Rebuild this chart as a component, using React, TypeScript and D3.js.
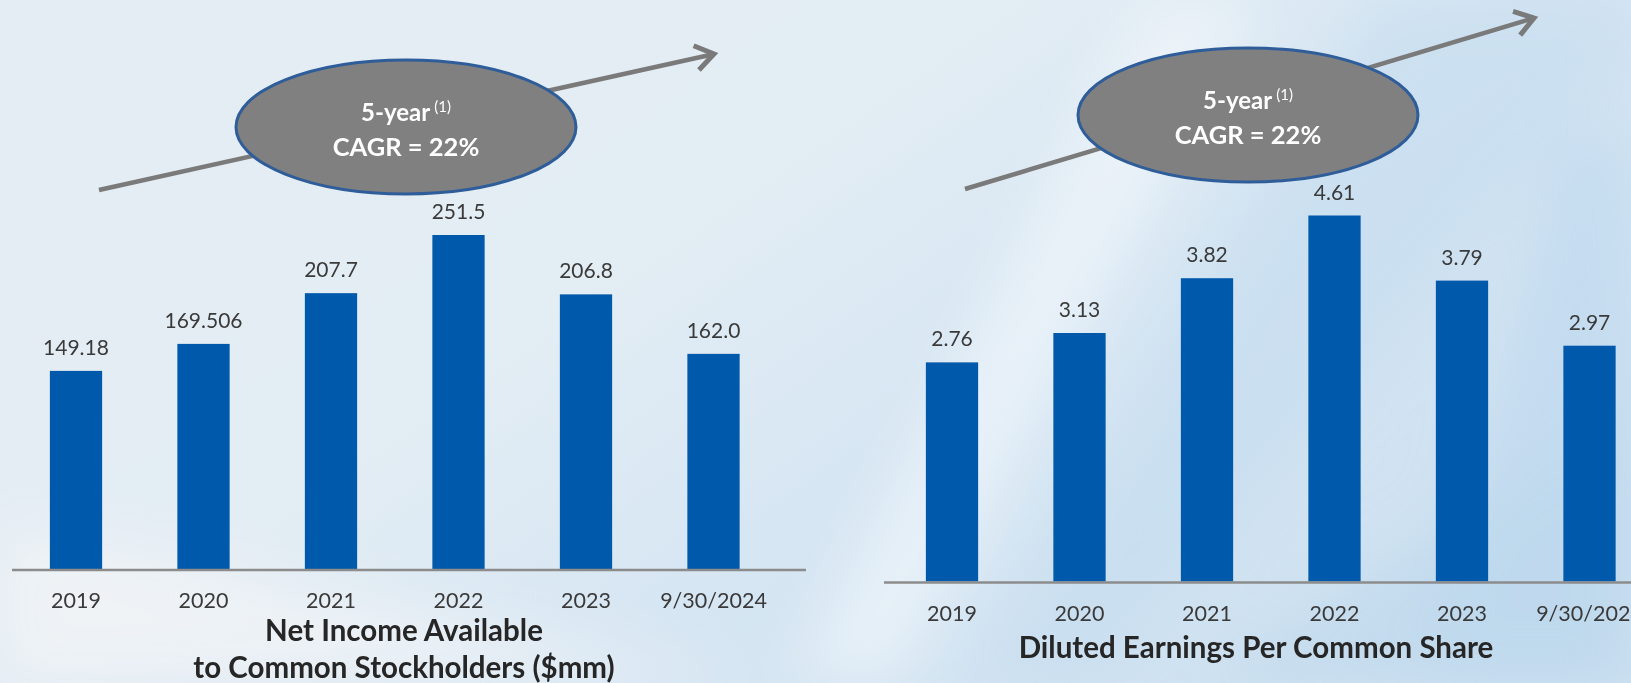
import React from "react";
import * as d3 from "d3";

const categories = ["2019", "2020", "2021", "2022", "2023", "9/30/2024"];
const netIncome = [149.18, 169.506, 207.7, 251.5, 206.8, 162.0];
const netIncomeLabels = ["149.18", "169.506", "207.7", "251.5", "206.8", "162.0"];
const eps = [2.76, 3.13, 3.82, 4.61, 3.79, 2.97];
const epsLabels = ["2.76", "3.13", "3.82", "4.61", "3.79", "2.97"];
const leftTitle = ["Net Income Available", "to Common Stockholders ($mm)"];
const rightTitle = ["Diluted Earnings Per Common Share"];
const cagrLine1 = "5-year";
const cagrSup = "(1)";
const cagrLine2 = "CAGR = 22%";

const W = 1631;
const H = 683;
const FONT = "Lato, 'Open Sans', sans-serif";
const BAR = "#0059aa";

type PanelProps = {
  values: number[];
  labels: string[];
  title: string[];
  xRange: [number, number];
  baseY: number;
  topY: number;
  axisX: [number, number];
  catY: number;
  titleX: number;
  titleY: number;
  arrow: [number, number, number, number];
  ell: [number, number, number, number];
};

function Panel(p: PanelProps) {
  const x = d3.scaleBand<string>().domain(categories).range(p.xRange).paddingInner(0.59).paddingOuter(0.295);
  const y = d3.scaleLinear().domain([0, d3.max(p.values) as number]).range([p.baseY, p.topY]);
  const [x1, y1, x2, y2] = p.arrow;
  const ang = Math.atan2(y2 - y1, x2 - x1);
  const hl = 22;
  const ha = 0.6;
  const head = [
    [x2 - hl * Math.cos(ang - ha), y2 - hl * Math.sin(ang - ha)],
    [x2, y2],
    [x2 - hl * Math.cos(ang + ha), y2 - hl * Math.sin(ang + ha)],
  ];
  const [cx, cy, rx, ry] = p.ell;
  return (
    <g>
      <line x1={x1} y1={y1} x2={x2 - 2 * Math.cos(ang)} y2={y2 - 2 * Math.sin(ang)} stroke="#7a7a7a" strokeWidth={4.5} />
      <path d={d3.line()(head as [number, number][]) as string} fill="none" stroke="#7a7a7a" strokeWidth={5} strokeLinejoin="miter" />
      <ellipse cx={cx} cy={cy} rx={rx} ry={ry} fill="#808080" stroke="#2f5d9a" strokeWidth={3} />
      <text x={cx} y={cy - 6} textAnchor="middle" fill="#ffffff" fontFamily={FONT} fontWeight={700} fontSize={24}>
        {cagrLine1}
        <tspan dx={4} dy={-9} fontSize={15} fontWeight={400}>{cagrSup}</tspan>
      </text>
      <text x={cx} y={cy + 29} textAnchor="middle" fill="#ffffff" fontFamily={FONT} fontWeight={700} fontSize={25.5}>
        {cagrLine2}
      </text>
      {p.values.map((v, i) => (
        <rect key={"b" + i} x={x(categories[i])} y={y(v)} width={x.bandwidth()} height={p.baseY - y(v)} fill={BAR} />
      ))}
      {p.values.map((v, i) => (
        <text key={"v" + i} x={(x(categories[i]) as number) + x.bandwidth() / 2} y={y(v) - 16} textAnchor="middle" fill="#3a3a3a" fontFamily={FONT} fontSize={21}>
          {p.labels[i]}
        </text>
      ))}
      <line x1={p.axisX[0]} x2={p.axisX[1]} y1={p.baseY + 1} y2={p.baseY + 1} stroke="#8c8c8c" strokeWidth={2.5} />
      {categories.map((c, i) => (
        <text key={"c" + i} x={(x(c) as number) + x.bandwidth() / 2} y={p.catY + 7} textAnchor="middle" fill="#3a3a3a" fontFamily={FONT} fontSize={21.5}>
          {c}
        </text>
      ))}
      {p.title.map((t, i) => (
        <text key={"t" + i} x={p.titleX} y={p.titleY + i * 37 + 12} textAnchor="middle" fill="#262626" fontFamily={FONT} fontWeight={700} fontSize={29.5}>
          {t}
        </text>
      ))}
    </g>
  );
}

export default function App() {
  return (
    <svg width={W} height={H} style={{ position: "absolute", left: 0, top: 0, display: "block" }}>
      <defs>
        <linearGradient id="bg" x1="0" y1="0" x2="1" y2="0.6">
          <stop offset="0" stopColor="#e4edf3" />
          <stop offset="0.45" stopColor="#e3edf4" />
          <stop offset="0.7" stopColor="#d6e6f3" />
          <stop offset="1" stopColor="#cfe2f1" />
        </linearGradient>
        <filter id="blur" x="-50%" y="-50%" width="200%" height="200%">
          <feGaussianBlur stdDeviation="30" />
        </filter>
      </defs>
      <rect x={0} y={0} width={W} height={H} fill="url(#bg)" />
      <g filter="url(#blur)">
        <polygon points="1150,0 1260,0 900,683 790,683" fill="#ffffff" opacity={0.45} />
        <polygon points="1380,0 1631,0 1631,60 1100,683 980,683" fill="#c2dbef" opacity={0.55} />
        <polygon points="1560,150 1631,120 1631,683 1420,683" fill="#bcd7ee" opacity={0.6} />
        <polygon points="0,520 760,683 0,683" fill="#f3f5f6" opacity={0.7} />
        <polygon points="1200,683 1631,420 1631,683" fill="#b9d5ec" opacity={0.5} />
      </g>
      <Panel
        values={netIncome}
        labels={netIncomeLabels}
        title={leftTitle}
        xRange={[12.25, 777.25]}
        baseY={569}
        topY={235}
        axisX={[12, 806]}
        catY={601}
        titleX={404}
        titleY={629}
        arrow={[99, 190, 714, 54]}
        ell={[406, 127, 170, 67]}
      />
      <Panel
        values={eps}
        labels={epsLabels}
        title={rightTitle}
        xRange={[888.25, 1653.25]}
        baseY={581.5}
        topY={215.5}
        axisX={[884, 1631]}
        catY={614}
        titleX={1256}
        titleY={646}
        arrow={[965, 189, 1534, 18]}
        ell={[1248, 115, 170, 67]}
      />
    </svg>
  );
}
